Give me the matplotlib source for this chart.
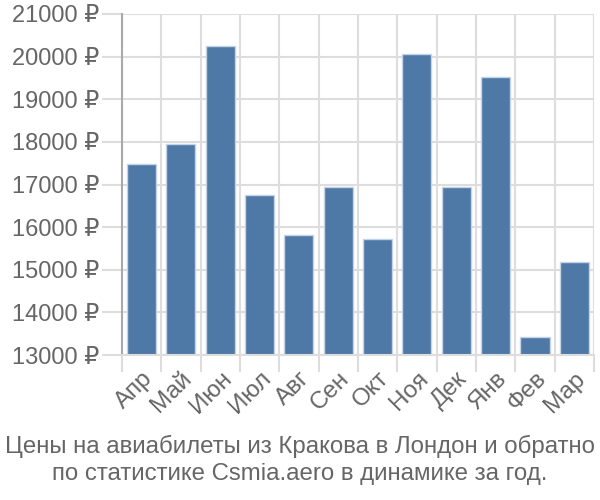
import matplotlib
matplotlib.use('Agg')
import matplotlib.pyplot as plt
import numpy as np

plt.rcParams['font.family'] = ['Liberation Sans', 'DejaVu Sans']

# Monthly prices (RUB)
months = ['Апр', 'Май', 'Июн', 'Июл', 'Авг', 'Сен', 'Окт', 'Ноя', 'Дек', 'Янв', 'Фев', 'Мар']
prices = [17480, 17950, 20250, 16750, 15810, 16940, 15720, 20060, 16940, 19520, 13420, 15180]
y_ticks = [13000, 14000, 15000, 16000, 17000, 18000, 19000, 20000, 21000]

title = ('Цены на авиабилеты из Кракова в Лондон и обратно\n'
         'по статистике Csmia.aero в динамике за год.')

fig = plt.figure(figsize=(6, 5), dpi=100)
ax = fig.add_axes([0.203, 0.29, 0.787, 0.682])

x = np.arange(len(months))
ax.bar(x, prices, width=0.74, bottom=0, color='#4e79a7',
       edgecolor='#c5d3e6', linewidth=1, zorder=2)

ax.set_xlim(-0.5, len(months) - 0.5)
ax.set_ylim(13000, 21000)

# grid lines at category boundaries
ax.set_xticks(np.arange(len(months) + 1) - 0.5, minor=False)
ax.set_xticklabels([])
ax.set_xticks(x, minor=True)
ax.set_xticklabels(months, minor=True, rotation=45, ha='right',
                   rotation_mode='anchor', fontsize=17.5, color='#666666')
ax.tick_params(axis='x', which='major', length=12, width=1.5, color='#dddddd')
ax.tick_params(axis='x', which='minor', length=0, pad=9)

ax.set_yticks(y_ticks)
ax.set_yticklabels([f'{v} ₽' for v in y_ticks], fontsize=17, color='#666666')
ax.tick_params(axis='y', length=14.5, width=1.5, color='#dddddd', pad=1.5)

ax.grid(True, which='major', color='#dddddd', linewidth=1.5, zorder=0)
ax.set_axisbelow(True)

for s in ['top', 'right']:
    ax.spines[s].set_visible(False)
ax.spines['bottom'].set_color('#dddddd')
ax.spines['bottom'].set_linewidth(1.5)
ax.spines['left'].set_color('#aaaaaa')
ax.spines['left'].set_linewidth(1.5)

fig.text(0.5, 0.08, title, ha='center', va='center', fontsize=17.3,
         color='#666666', linespacing=1.3)

fig.savefig('out.png', dpi=100)
